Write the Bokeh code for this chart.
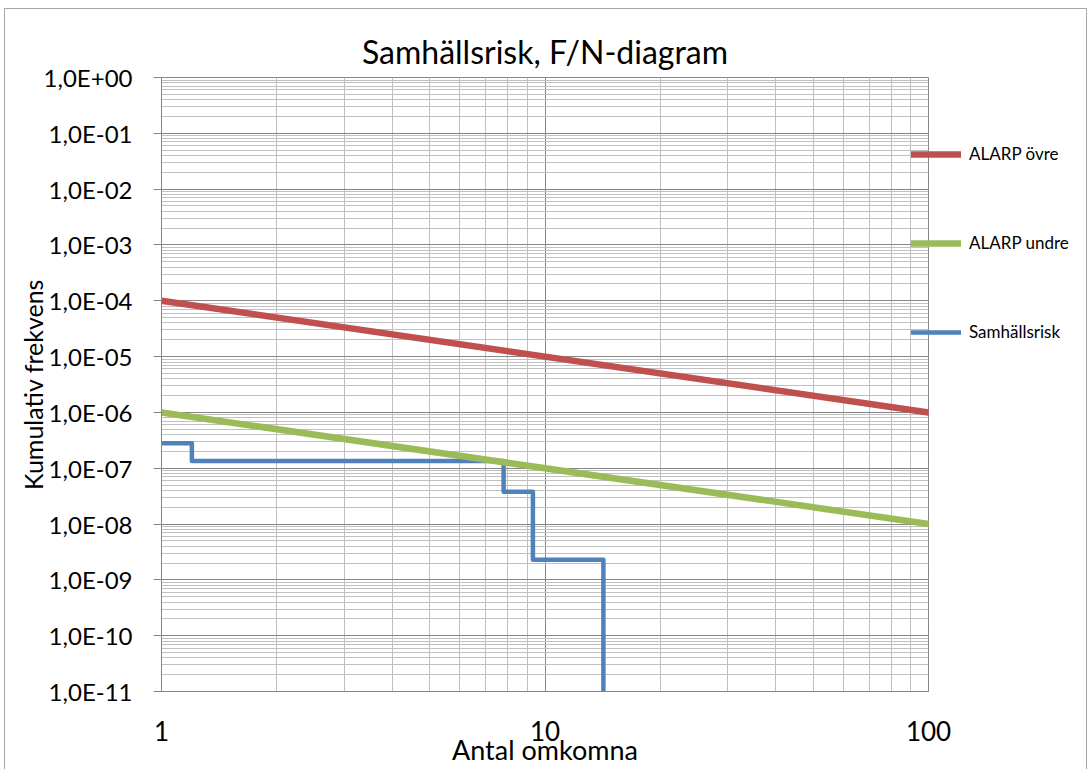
from bokeh.plotting import figure
from bokeh.models import (Range1d, FixedTicker, Legend, LegendItem, Title, InlineStyleSheet)
from bokeh.embed import file_html
from bokeh.resources import INLINE

# ---- data ----
n_alarp = [1, 100]
f_alarp_upper = [1e-4, 1e-6]
f_alarp_lower = [1e-6, 1e-8]

n_risk = [1, 1.2, 7.8, 9.3, 14.2]
f_risk = [2.8e-7, 1.35e-7, 3.8e-8, 2.3e-9, 1e-11]

x_ticks = [1, 10, 100]
x_tick_labels = ["1", "10", "100"]
x_minor = [2, 3, 4, 5, 6, 7, 8, 9, 20, 30, 40, 50, 60, 70, 80, 90]

y_exps = list(range(-11, 1))
y_ticks = [10.0 ** e for e in y_exps]
y_tick_labels = ["1,0E-11", "1,0E-10", "1,0E-09", "1,0E-08", "1,0E-07", "1,0E-06",
                 "1,0E-05", "1,0E-04", "1,0E-03", "1,0E-02", "1,0E-01", "1,0E+00"]
y_minor = [m * 10.0 ** e for e in range(-11, 0) for m in range(2, 10)]

series_names = ["ALARP övre", "ALARP undre", "Samhällsrisk"]
series_colors = ["#c0504d", "#9bbb59", "#4f81bd"]

FONT = "Lato"

border_css = InlineStyleSheet(css="""
:host::after {
  content: "";
  position: absolute;
  left: 4px; top: 8px; width: 1083px; height: 761px;
  border: 1px solid #a6a6a6; border-bottom: none;
  box-sizing: border-box; pointer-events: none; z-index: 100;
}
""")

p = figure(x_axis_type="log", y_axis_type="log",
           x_range=Range1d(1, 100), y_range=Range1d(1e-11, 1),
           output_backend="svg", toolbar_location=None,
           min_border_left=161, min_border_right=163, min_border_top=77, min_border_bottom=78,
           frame_width=767, frame_height=614,
           stylesheets=[border_css])

p.title = Title(text="Samhällsrisk, F/N-diagram", align="center",
                text_font=FONT, text_font_size="32px", text_font_style="normal",
                text_color="#000000", standoff=14)

p.background_fill_color = "white"
p.border_fill_color = "white"
p.outline_line_color = "#868686"

# axes
p.xaxis.ticker = FixedTicker(ticks=x_ticks, minor_ticks=x_minor)
p.yaxis.ticker = FixedTicker(ticks=y_ticks, minor_ticks=y_minor)
p.xaxis.major_label_overrides = {t: l for t, l in zip(x_ticks, x_tick_labels)}
p.yaxis.major_label_overrides = {t: l for t, l in zip(y_ticks, y_tick_labels)}

for ax in (p.xaxis[0], p.yaxis[0]):
    ax.axis_line_color = "#868686"
    ax.major_tick_line_color = "#868686"
    ax.minor_tick_out = 0
    ax.minor_tick_in = 0
    ax.major_tick_in = 0
    ax.major_label_text_font = FONT
    ax.major_label_text_color = "#000000"
    ax.axis_label_text_font = FONT
    ax.axis_label_text_font_style = "normal"
    ax.axis_label_text_color = "#000000"

p.xaxis.major_tick_out = 0
p.xaxis.major_label_text_font_size = "26px"
p.xaxis.major_label_standoff = 29
p.xaxis.axis_label = "Antal omkomna"
p.xaxis.axis_label_text_font_size = "27px"
p.xaxis.axis_label_standoff = -11

p.yaxis.major_tick_out = 8
p.yaxis.major_label_text_font_size = "24px"
p.yaxis.major_label_standoff = 21
p.yaxis.axis_label = "Kumulativ frekvens"
p.yaxis.axis_label_text_font_size = "25px"
p.yaxis.axis_label_standoff = -7

# grids
for g in (p.xgrid[0], p.ygrid[0]):
    g.grid_line_color = "#868686"
    g.grid_line_width = 1
    g.minor_grid_line_color = "#c0c0c0"
    g.minor_grid_line_width = 1

# series
r_risk = p.step(n_risk, f_risk, mode="after", line_color=series_colors[2], line_width=4.5,
                line_join="round", line_cap="round")
r_up = p.line(n_alarp, f_alarp_upper, line_color=series_colors[0], line_width=6.5,
              line_cap="round")
r_low = p.line(n_alarp, f_alarp_lower, line_color=series_colors[1], line_width=6.5,
               line_cap="round")

legend = Legend(items=[LegendItem(label=series_names[0], renderers=[r_up]),
                       LegendItem(label=series_names[1], renderers=[r_low]),
                       LegendItem(label=series_names[2], renderers=[r_risk])],
                location=(-17, 349), orientation="vertical",
                glyph_width=50, glyph_height=20, label_height=20, spacing=68,
                label_standoff=8, padding=0, margin=0,
                border_line_color=None, background_fill_alpha=0,
                label_text_font=FONT, label_text_font_size="17px", label_text_color="#000000")
p.add_layout(legend, "right")

open("out.html", "w").write(file_html(p, INLINE))
